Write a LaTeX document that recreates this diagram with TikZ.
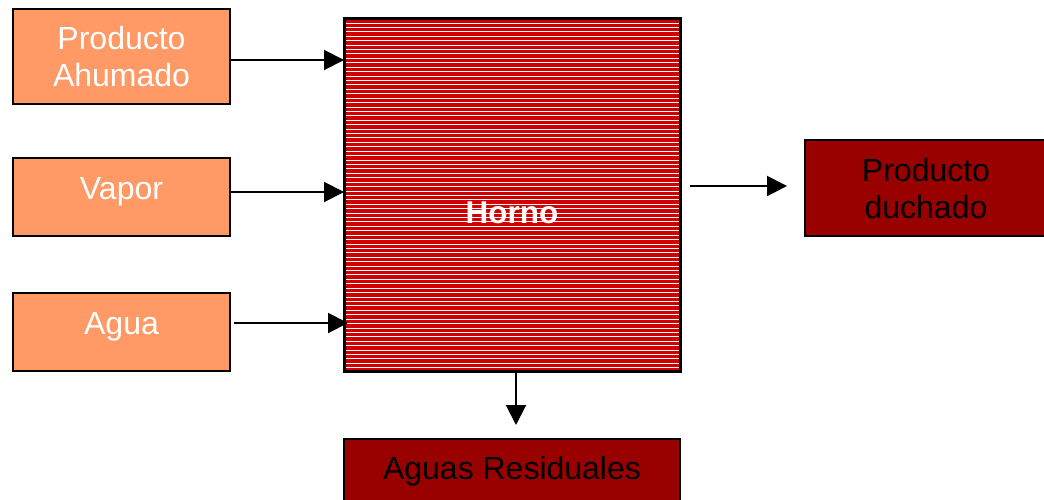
\documentclass[tikz,border=0pt]{standalone}
\usepackage{fontspec}
\setmainfont{Liberation Sans}
\usetikzlibrary{arrows.meta}
\definecolor{orangebox}{HTML}{FF9966}
\definecolor{darkred}{HTML}{990000}
\definecolor{hornored}{HTML}{D00000}
\tikzset{
  inbox/.style={draw=black, line width=1.8pt, fill=orangebox, minimum width=217pt, inner sep=0pt},
  outbox/.style={draw=black, line width=1.8pt, fill=darkred, inner sep=0pt},
  lbl/.style={align=center, font=\fontsize{32}{37}\selectfont, inner sep=0pt},
  flow/.style={line width=2pt, -{Triangle[length=20pt,width=20pt]}},
}
\begin{document}
\begin{tikzpicture}[x=1pt,y=-1pt]
\useasboundingbox (0,0) rectangle (1044,499);
\clip (0,0) rectangle (1044,499);
% Horno
\fill[hornored] (344,18) rectangle (680,371);
\foreach \i in {0,...,79} {
  \draw[white, line width=0.9pt] (346,{23+4.42*\i}) -- (679,{23+4.42*\i});
}
\node[draw=black, line width=3pt, minimum width=336pt, minimum height=353pt, inner sep=0pt] (horno) at (512,194.5) {};
\node[text=white, font=\fontsize{31.5}{36}\selectfont\bfseries] (hornolbl) at (512,213) {Horno};
% input boxes
\node[inbox, minimum height=95pt] (pa) at (121.5,56.5) {};
\node[lbl, text=white] (palbl) at (121.5,56.5) {Producto\\Ahumado};
\node[inbox, minimum height=78pt] (vap) at (121.5,197) {};
\node[lbl, text=white] (vaplbl) at (121.5,192) {Vapor};
\node[inbox, minimum height=78pt] (agua) at (121.5,332) {};
\node[lbl, text=white] (agualbl) at (121.5,327) {Agua};
% output boxes
\node[outbox, minimum width=250pt, minimum height=96pt] (pd) at (930,188) {};
\node[lbl, text=black] (pdlbl) at (926,189) {Producto\\duchado};
\node[outbox, minimum width=336pt, minimum height=80pt, anchor=north] (ar) at (512,438) {};
\node[lbl, text=black] (arlbl) at (512,471) {Aguas Residuales};
% connectors
\coordinate (a1s) at (230,60); \coordinate (a1e) at (344,60);
\coordinate (a2s) at (230,192); \coordinate (a2e) at (344,192);
\coordinate (a3s) at (234,323); \coordinate (a3e) at (348,323);
\coordinate (a4s) at (690,186); \coordinate (a4e) at (787,186);
\coordinate (a5s) at (516,371); \coordinate (a5e) at (516,425);
\draw[flow] (a1s) -- (a1e);
\draw[flow] (a2s) -- (a2e);
\draw[flow] (a3s) -- (a3e);
\draw[flow] (a4s) -- (a4e);
\draw[flow] (a5s) -- (a5e);
\end{tikzpicture}
\end{document}
